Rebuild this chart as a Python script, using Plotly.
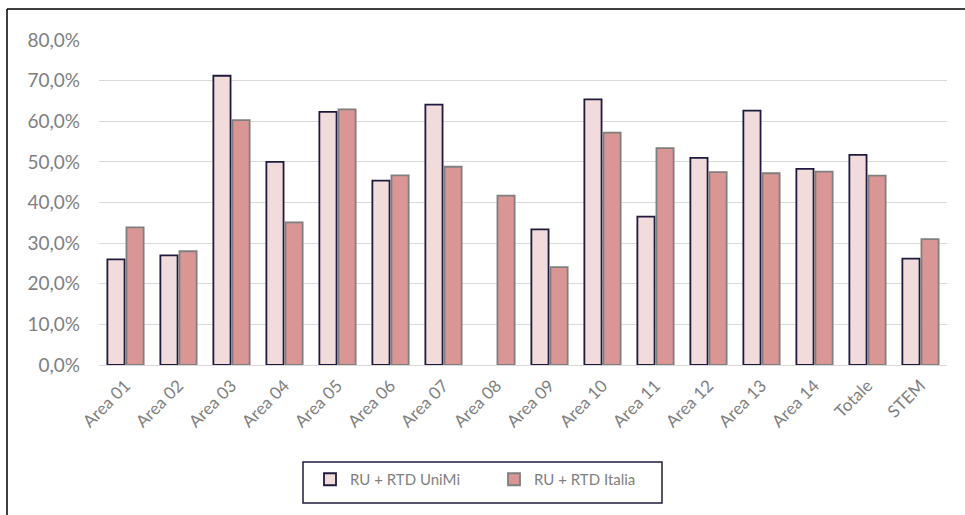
import plotly.graph_objects as go

categories = ["Area 01", "Area 02", "Area 03", "Area 04", "Area 05", "Area 06", "Area 07",
              "Area 08", "Area 09", "Area 10", "Area 11", "Area 12", "Area 13", "Area 14",
              "Totale", "STEM"]
unimi = [0.260, 0.270, 0.712, 0.500, 0.623, 0.454, 0.641, None, 0.334, 0.654, 0.365,
         0.510, 0.626, 0.483, 0.517, 0.262]
italia = [0.339, 0.280, 0.603, 0.351, 0.629, 0.467, 0.488, 0.417, 0.241, 0.572, 0.534,
          0.475, 0.472, 0.476, 0.466, 0.310]
y_ticks = [0, 0.1, 0.2, 0.3, 0.4, 0.5, 0.6, 0.7, 0.8]
y_labels = ["0,0%", "10,0%", "20,0%", "30,0%", "40,0%", "50,0%", "60,0%", "70,0%", "80,0%"]

FONT = "Lato, 'Open Sans', sans-serif"

fig = go.Figure()
fig.add_trace(go.Bar(
    x=categories, y=unimi, name="RU + RTD UniMi",
    marker=dict(color="#F2DCDB", line=dict(color="#1F1B3F", width=1.8)),
))
fig.add_trace(go.Bar(
    x=categories, y=italia, name="RU + RTD Italia",
    marker=dict(color="#D99694", line=dict(color="#7F7F7F", width=1.8)),
))

L, R, T, B = 99, 18, 40, 150
W, H = 965, 515
pw = W - L - R
ph = H - T - B

def px(x):
    return (x - L) / pw

def py(y):
    return (H - B - y) / ph

fig.update_layout(
    width=W, height=H,
    margin=dict(l=L, r=R, t=T, b=B),
    paper_bgcolor="white", plot_bgcolor="white",
    barmode="group", bargap=0.28, bargroupgap=0.1,
    font=dict(family=FONT, color="#7F7F7F", size=16),
    showlegend=True,
    legend=dict(
        orientation="h", x=px(310), xanchor="left", y=py(463), yanchor="top",
        borderwidth=0, bgcolor="rgba(0,0,0,0)",
        font=dict(size=15, color="#7F7F7F", family=FONT),
        itemwidth=30, tracegroupgap=0,
        entrywidth=139, entrywidthmode="pixels",
    ),
    xaxis=dict(
        tickangle=-45, tickfont=dict(size=17, color="#7F7F7F"),
        showline=True, linecolor="#D9D9D9", linewidth=1,
        ticks="", showgrid=False, ticklabelstandoff=3,
    ),
    yaxis=dict(
        range=[0, 0.8], tickvals=y_ticks, ticktext=y_labels,
        showgrid=True, gridcolor="#D9D9D9", gridwidth=1.2,
        zeroline=False, showline=False, ticks="", ticklen=0,
        tickfont=dict(size=19, color="#7F7F7F"),
        ticklabelstandoff=18,
    ),
    shapes=[
        dict(type="line", xref="paper", yref="paper",
             x0=px(7), x1=px(970), y0=py(9), y1=py(9),
             line=dict(color="black", width=1.5)),
        dict(type="line", xref="paper", yref="paper",
             x0=px(7), x1=px(7), y0=py(9), y1=py(520),
             line=dict(color="black", width=1.5)),
        dict(type="rect", xref="paper", yref="paper",
             x0=px(303), x1=px(662), y0=py(462), y1=py(503),
             line=dict(color="#1F1B3F", width=1.5), fillcolor="white", layer="below"),
    ],
)

fig.write_html("out.html")
